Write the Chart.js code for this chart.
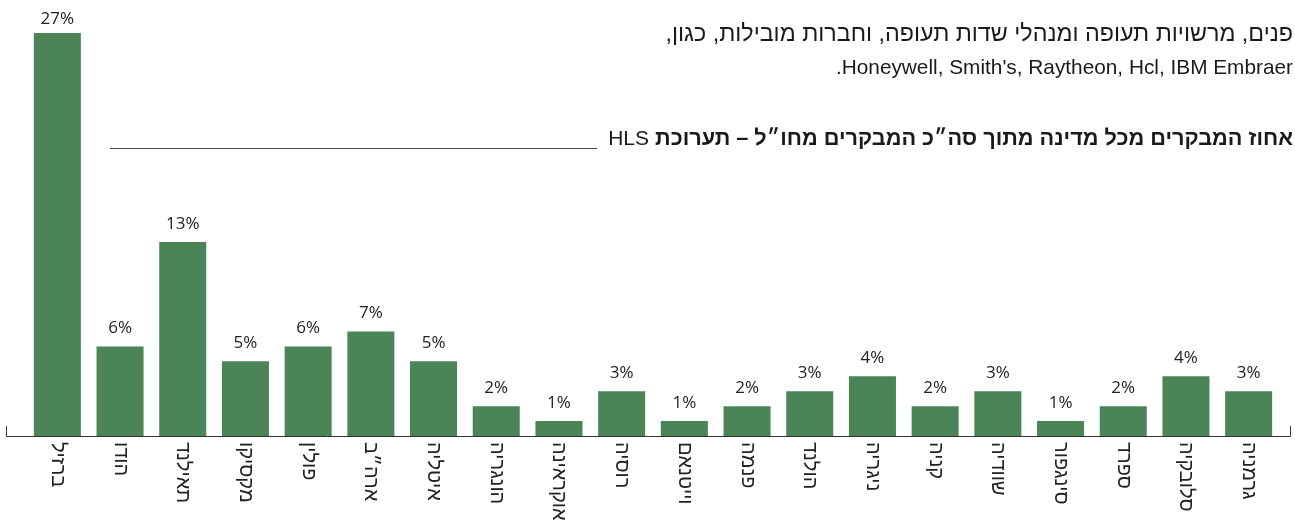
<!DOCTYPE html>
<html lang="he">
<head>
<meta charset="utf-8">
<title>אחוז המבקרים מכל מדינה – HLS</title>
<script src="https://cdn.jsdelivr.net/npm/chart.js@4.4.0/dist/chart.umd.min.js"></script>
<style>
  html, body { margin: 0; padding: 0; background: #fff; }
  #wrap { position: relative; width: 1295px; height: 522px; overflow: hidden; }
  #chart { position: absolute; left: 0; top: 0; }
  .txt {
    position: absolute;
    right: 2px;
    direction: rtl;
    text-align: right;
    white-space: nowrap;
    color: #1a1a1a;
    font-family: "Liberation Sans Narrow", "Liberation Sans", sans-serif;
  }
  #intro { top: 16px; line-height: 34px; }
  #intro .he { font-family: "Liberation Sans", sans-serif; font-size: 23.3px; }
  #intro .en { font-size: 20.8px; }
  #heading { top: 125px; font-family: "Liberation Sans", sans-serif; font-size: 21.7px; line-height: 26px; font-weight: bold; }
  #heading span { font-family: "Liberation Sans Narrow", sans-serif; font-weight: normal; font-size: 21px; }
  #rule { position: absolute; left: 110px; top: 148px; width: 487px; height: 1px; background: #444; }
</style>
</head>
<body>
<div id="wrap">
  <canvas id="chart" width="1295" height="522"></canvas>
  <div class="txt" id="intro">
    <div class="he">פנים, מרשויות תעופה ומנהלי שדות תעופה, וחברות מובילות, כגון,</div>
    <div class="en">Honeywell, Smith's, Raytheon, Hcl, IBM Embraer.</div>
  </div>
  <div class="txt" id="heading">אחוז המבקרים מכל מדינה מתוך סה״כ המבקרים מחו״ל – תערוכת <span>HLS</span></div>
  <div id="rule"></div>
</div>
<script>
document.addEventListener("DOMContentLoaded", () => {
  const countries = [
    "ברזיל", "הודו", "תאילנד", "מקסיקו", "פולין", "ארה״ב", "איטליה",
    "הונגריה", "אוקראינה", "רוסיה", "וייטנאם", "פנמה", "הולנד", "ניגריה",
    "קניה", "שוודיה", "סינגפור", "ספרד", "סלובקיה", "גרמניה",
  ];
  const shares = [27, 6, 13, 5, 6, 7, 5, 2, 1, 3, 1, 2, 3, 4, 2, 3, 1, 2, 4, 3];

  // Value labels, rotated country names and the baseline
  const labelPlugin = {
    id: "barLabels",
    afterDatasetsDraw(chart) {
      const { ctx, chartArea, scales } = chart;
      const meta = chart.getDatasetMeta(0);
      ctx.save();

      ctx.strokeStyle = "#333";
      ctx.lineWidth = 1;
      ctx.beginPath();
      ctx.moveTo(6.5, chartArea.bottom - 10);
      ctx.lineTo(6.5, chartArea.bottom + 0.5);
      ctx.lineTo(1290.5, chartArea.bottom + 0.5);
      ctx.lineTo(1290.5, chartArea.bottom - 10);
      ctx.stroke();

      ctx.fillStyle = "#222";
      ctx.font = "17px 'Open Sans'";
      ctx.textAlign = "center";
      ctx.textBaseline = "middle";
      meta.data.forEach((bar, i) => {
        ctx.fillText(shares[i] + "%", bar.x, Math.max(bar.y - 18, 19));
      });

      ctx.font = "20px 'Liberation Sans'";
      ctx.textAlign = "left";
      countries.forEach((name, i) => {
        const x = scales.x.getPixelForValue(i);
        ctx.save();
        ctx.translate(x, chartArea.bottom + 6);
        ctx.rotate(Math.PI / 2);
        ctx.fillText(name, 0, 0);
        ctx.restore();
      });

      ctx.restore();
    },
  };

  const ctx = document.getElementById("chart").getContext("2d");
  new Chart(ctx, {
    type: "bar",
    data: {
      labels: countries,
      datasets: [
        {
          data: shares,
          backgroundColor: "#4a8457",
          borderWidth: 0,
          categoryPercentage: 1,
          barPercentage: 0.75,
        },
      ],
    },
    options: {
      responsive: false,
      animation: false,
      layout: { padding: { top: 33, bottom: 86, left: 26, right: 15 } },
      plugins: {
        legend: { display: false },
        tooltip: { enabled: false },
      },
      scales: {
        x: { display: false },
        y: { display: false, min: 0, max: 27 },
      },
    },
    plugins: [labelPlugin],
  });
});
</script>
</body>
</html>
